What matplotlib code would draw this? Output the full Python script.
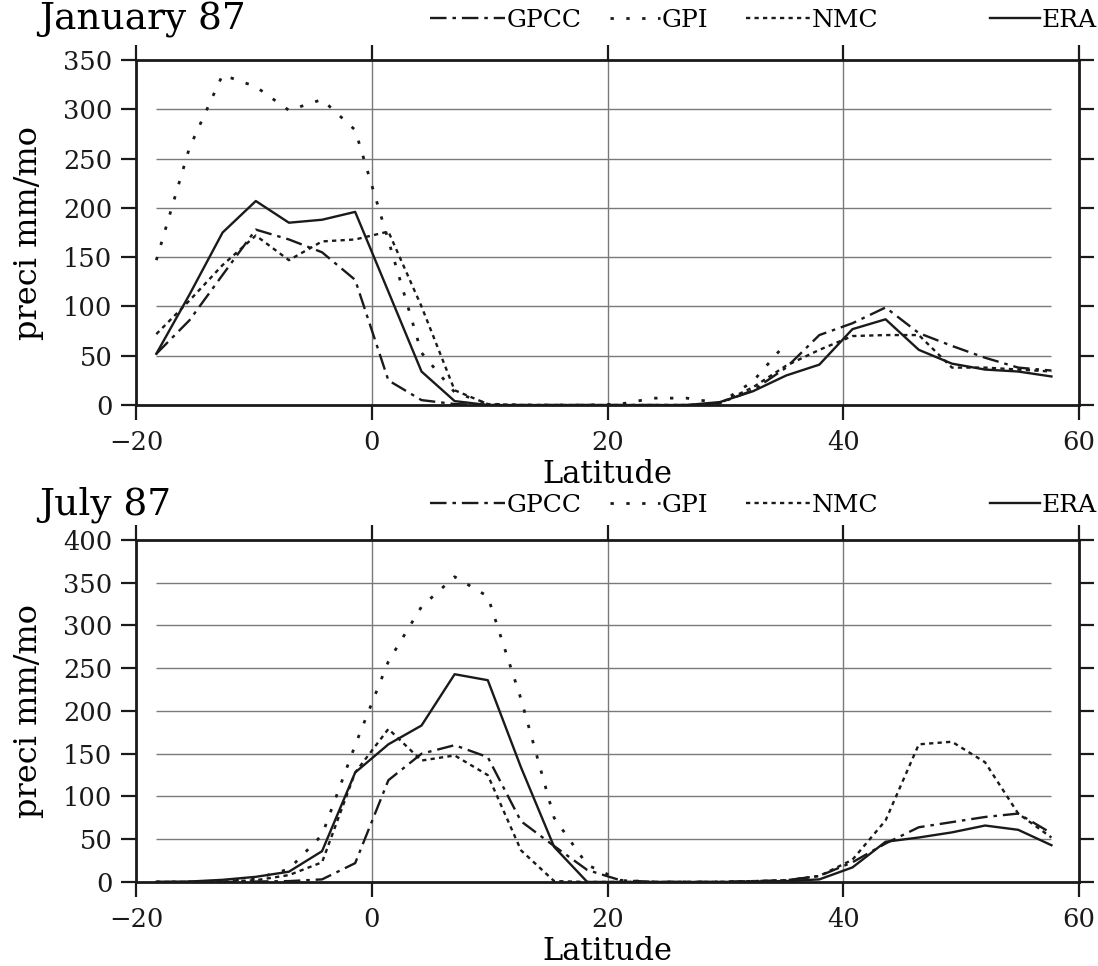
import numpy as np
import matplotlib
matplotlib.use('Agg')
from matplotlib import pyplot as plt

plt.rcParams['font.family'] = ['DejaVu Serif']

# latitude of the grid rows (deg)
lats = [-18.28, -15.47, -12.66, -9.84, -7.03, -4.22, -1.41, 1.41, 4.22, 7.03,
        9.84, 12.66, 15.47, 18.28, 21.09, 23.91, 26.72, 29.53, 32.34, 35.16,
        37.97, 40.78, 43.59, 46.41, 49.22, 52.03, 54.84, 57.66]
lats_gpi = lats[:20]  # GPI only to ~35N

# January 87
jan_gpcc = [52, 86, 132, 178, 168, 155, 127, 25, 5, 1, 0, 0, 0, 0, 0, 0, 0, 2,
            15, 38, 71, 83, 99, 73, 60, 48, 38, 35]
jan_gpi = [147, 261, 335, 323, 299, 310, 279, 167, 53, 13, 1, 0, 0, 0, 1, 7, 7,
           2, 24, 63]
jan_nmc = [72, 106, 142, 172, 147, 166, 168, 176, 100, 15, 1, 0, 0, 0, 0, 0, 0,
           2, 18, 40, 56, 70, 71, 71, 38, 38, 36, 34]
jan_era = [52, 112, 175, 207, 185, 188, 196, 115, 34, 4, 0, 0, 0, 0, 0, 0, 0, 3,
           14, 30, 41, 77, 87, 56, 42, 36, 34, 29]

# July 87
jul_gpcc = [0, 0, 0, 0.5, 1, 3, 22, 119, 150, 160, 146, 71, 42, 14, 2, 0, 0, 0,
            1, 2, 7, 23, 45, 64, 70, 76, 80, 57]
jul_gpi = [0, 0, 1, 4, 15, 55, 160, 258, 322, 357, 334, 214, 75, 20, 2, 0, 0, 0,
           0, 1]
jul_nmc = [0, 0, 0.5, 2, 8, 23, 128, 179, 142, 148, 125, 37, 1, 0, 0, 0, 0, 0,
           1, 2, 7, 26, 72, 161, 164, 140, 80, 52]
jul_era = [0, 0.5, 2.5, 6, 12, 36, 128, 161, 183, 243, 236, 134, 41, 0, 0, 0, 0,
           0, 0.5, 1, 3, 17, 47, 52, 58, 66, 61, 43]

xticks = [-20, 0, 20, 40, 60]
xticklabels = ['\u221220', '0', '20', '40', '60']

fig = plt.figure(figsize=(10.98, 9.66), dpi=100)
ax1 = fig.add_axes([0.1239, 0.5807, 0.8588, 0.3571])
ax2 = fig.add_axes([0.1239, 0.0870, 0.8588, 0.3540])

col = '#1a1a1a'
styles = dict(
    GPCC=dict(ls=(0, (7, 2.5, 1.5, 2.5)), lw=1.7),
    GPI=dict(ls=(0, (1.2, 4.5)), lw=2.0),
    NMC=dict(ls=(0, (1.8, 1.8)), lw=1.7),
    ERA=dict(ls='-', lw=1.7),
)
# legend entry: left edge (fig fraction) and handle length (font units)
leg_pos = dict(GPCC=(0.392, 3.0), GPI=(0.556, 2.0), NMC=(0.679, 2.6),
               ERA=(0.902, 2.0))

panels = [
    (ax1, 'January 87', 350, jan_gpcc, jan_gpi, jan_nmc, jan_era, 0.979),
    (ax2, 'July 87', 400, jul_gpcc, jul_gpi, jul_nmc, jul_era, 0.477),
]

for ax, title, ymax, gpcc, gpi, nmc, era, ytop in panels:
    yt = np.arange(0, ymax + 1, 50)
    ax.hlines(yt[1:-1], lats[0], lats[-1], color='#7a7a7a', lw=1.0, zorder=1)
    ax.grid(axis='x', color='#7a7a7a', lw=1.0)
    ax.set_axisbelow(True)

    lines = {}
    lines['GPCC'], = ax.plot(lats, gpcc, color=col, **styles['GPCC'])
    lines['GPI'], = ax.plot(lats_gpi, gpi, color=col, **styles['GPI'])
    lines['NMC'], = ax.plot(lats, nmc, color=col, **styles['NMC'])
    lines['ERA'], = ax.plot(lats, era, color=col, **styles['ERA'])

    ax.set_xlim(-20, 60)
    ax.set_ylim(0, ymax)
    ax.set_xticks(xticks)
    ax.set_xticklabels(xticklabels)
    ax.set_yticks(yt)
    ax.tick_params(direction='out', length=11, width=1.6, labelsize=18.5,
                   top=True, right=True, colors=col)
    ax.tick_params(axis='x', pad=7)
    ax.tick_params(axis='y', pad=6)
    for s in ax.spines.values():
        s.set_linewidth(2.0)
        s.set_color(col)
    ax.set_xlabel('Latitude', fontsize=22, labelpad=3)
    ax.set_ylabel('preci mm/mo', fontsize=23, labelpad=14)
    fig.text(0.036, ytop, title, fontsize=27, ha='left', va='center')

    for name, (xl, hl) in leg_pos.items():
        fig.legend([lines[name]], [name], loc='center left',
                   bbox_to_anchor=(xl, ytop), frameon=False, fontsize=18,
                   handlelength=hl, handletextpad=0.05, borderpad=0,
                   borderaxespad=0)

fig.savefig('out.png', dpi=100)
